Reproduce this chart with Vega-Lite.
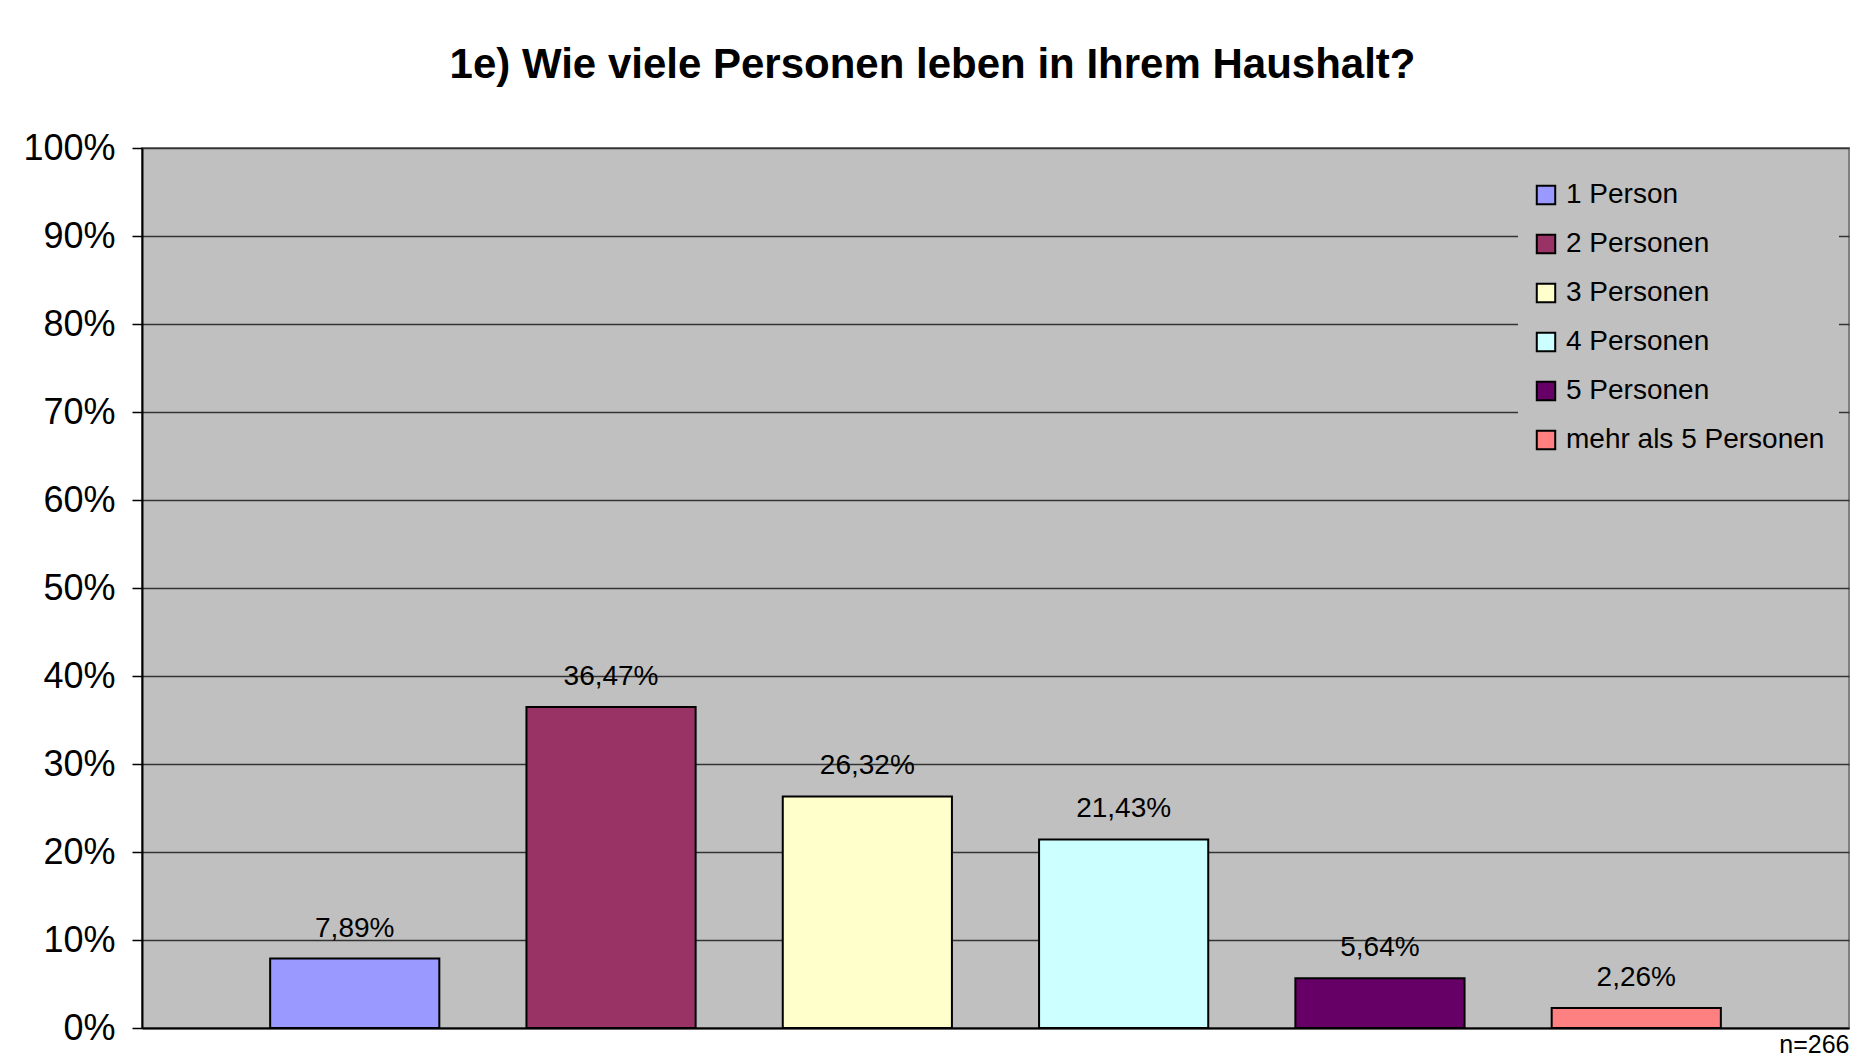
{
  "$schema": "https://vega.github.io/schema/vega-lite/v6.json",
  "width": 1707,
  "height": 880,
  "autosize": {"type": "none"},
  "padding": {"left": 142, "top": 148, "right": 12, "bottom": 32},
  "background": "white",
  "title": {
    "text": "1e) Wie viele Personen leben in Ihrem Haushalt?",
    "anchor": "middle",
    "frame": "group",
    "dx": -63,
    "offset": 43,
    "font": "Liberation Sans",
    "fontSize": 42,
    "fontWeight": "bold",
    "color": "black"
  },
  "config": {
    "locale": {
      "number": {"decimal": ",", "thousands": ".", "grouping": [3], "currency": ["", " €"]}
    },
    "view": {"fill": "#c0c0c0", "stroke": "#808080", "strokeWidth": 2},
    "font": "Liberation Sans"
  },
  "data": {
    "values": [
      {"kategorie": "1 Person", "anteil": 0.0789},
      {"kategorie": "2 Personen", "anteil": 0.3647},
      {"kategorie": "3 Personen", "anteil": 0.2632},
      {"kategorie": "4 Personen", "anteil": 0.2143},
      {"kategorie": "5 Personen", "anteil": 0.0564},
      {"kategorie": "mehr als 5 Personen", "anteil": 0.0226}
    ]
  },
  "encoding": {
    "x": {
      "field": "kategorie",
      "type": "nominal",
      "sort": null,
      "scale": {"paddingInner": 0.34, "paddingOuter": 0.5},
      "axis": {
        "labels": false,
        "ticks": false,
        "domain": true,
        "domainColor": "black",
        "domainWidth": 2,
        "title": "n=266",
        "titleAnchor": "end",
        "titleAlign": "right",
        "titleBaseline": "top",
        "titlePadding": 4,
        "titleFontSize": 25,
        "titleFontWeight": "normal",
        "titleColor": "black"
      }
    },
    "y": {
      "field": "anteil",
      "type": "quantitative",
      "scale": {"domain": [0, 1], "nice": false},
      "axis": {
        "format": ".0%",
        "values": [0, 0.1, 0.2, 0.3, 0.4, 0.5, 0.6, 0.7, 0.8, 0.9, 1],
        "title": null,
        "grid": true,
        "gridColor": "#333333",
        "gridWidth": 1.5,
        "domain": true,
        "domainColor": "black",
        "domainWidth": 2,
        "ticks": true,
        "tickSize": 10,
        "tickColor": "black",
        "tickWidth": 1.5,
        "labelFontSize": 36,
        "labelColor": "black",
        "labelPadding": 17
      }
    }
  },
  "layer": [
    {
      "mark": {"type": "bar", "stroke": "black", "strokeWidth": 2},
      "encoding": {
        "color": {
          "field": "kategorie",
          "type": "nominal",
          "sort": null,
          "scale": {
            "domain": ["1 Person", "2 Personen", "3 Personen", "4 Personen", "5 Personen", "mehr als 5 Personen"],
            "range": ["#9999FF", "#993366", "#FFFFCC", "#CCFFFF", "#660066", "#FF8080"]
          },
          "legend": {
            "title": null,
            "orient": "none",
            "legendX": 1376,
            "legendY": 19,
            "padding": 14,
            "fillColor": "#c0c0c0",
            "symbolType": "square",
            "symbolSize": 340,
            "symbolStrokeColor": "black",
            "symbolStrokeWidth": 2,
            "symbolOpacity": 1,
            "labelFontSize": 28,
            "labelColor": "black",
            "labelLimit": 400,
            "labelOffset": 6,
            "rowPadding": 21
          }
        }
      }
    },
    {
      "mark": {"type": "text", "baseline": "bottom", "dy": -16, "fontSize": 28, "color": "black"},
      "encoding": {
        "text": {"field": "anteil", "type": "quantitative", "format": ".2%"}
      }
    }
  ]
}
